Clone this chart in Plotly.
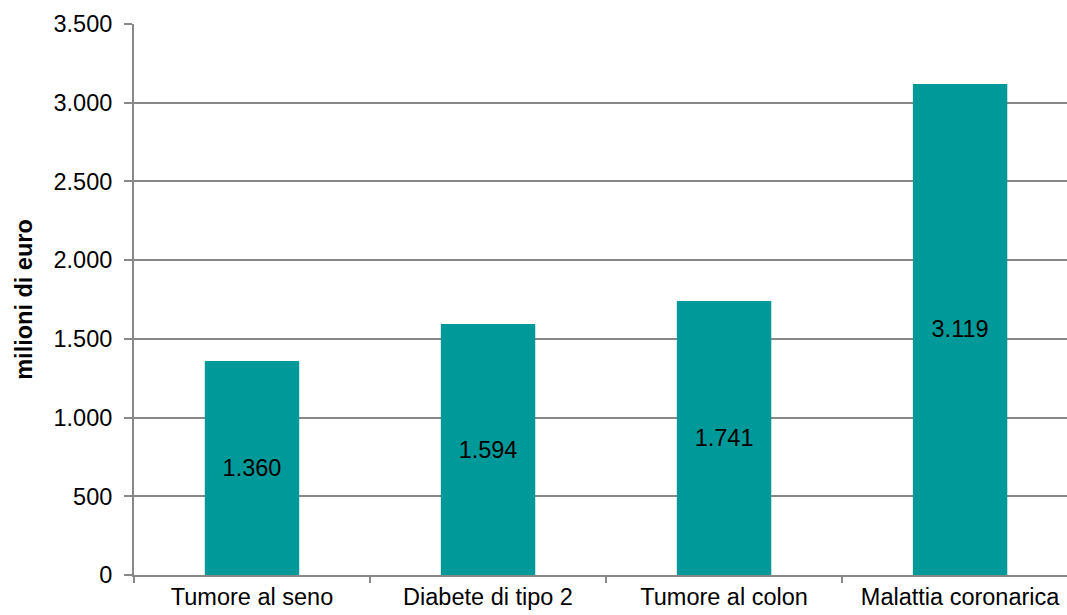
import plotly.graph_objects as go

categories = ["Tumore al seno", "Diabete di tipo 2", "Tumore al colon", "Malattia coronarica"]
values = [1360, 1594, 1741, 3119]
y_ticks = [0, 500, 1000, 1500, 2000, 2500, 3000, 3500]

FONT = "Liberation Sans, Arial, sans-serif"
FS = 23.5

fig = go.Figure(go.Bar(
    x=categories, y=values,
    marker=dict(color="#009999", line=dict(width=0)),
    width=0.4,
    text=[f"{v:,}".replace(",", ".") for v in values],
    textposition="inside", insidetextanchor="middle",
    textfont=dict(family=FONT, size=FS, color="black"),
    textangle=0,
))

fig.update_layout(
    width=1067, height=615,
    margin=dict(l=134, r=0, t=24, b=40),
    paper_bgcolor="white", plot_bgcolor="white",
    separators=",.",
    font=dict(family=FONT, size=FS, color="black"),
    showlegend=False,
    uniformtext=dict(minsize=FS, mode="show"),
)
fig.update_xaxes(
    range=[-0.5, 3.453], showgrid=False,
    showline=True, linecolor="#888888", linewidth=2,
    ticks="outside", tickson="boundaries", ticklen=6, tickcolor="#888888", tickwidth=2,
    tickfont=dict(family=FONT, size=FS),
)
fig.update_yaxes(
    range=[0, 3500], tickvals=y_ticks, tickformat=",d",
    showgrid=True, gridcolor="#888888", gridwidth=1.5,
    showline=True, linecolor="#888888", linewidth=2,
    ticks="outside", ticklen=8, tickcolor="#888888", tickwidth=2,
    ticklabelstandoff=7,
    tickfont=dict(family=FONT, size=FS),
    zeroline=False,
    title=dict(text="<b>milioni di euro</b>", font=dict(family=FONT, size=FS), standoff=14),
    automargin=False,
)

fig.write_html("out.html", config={"displayModeBar": False},
               post_script="document.body.style.margin='0';document.body.style.overflow='hidden';")
